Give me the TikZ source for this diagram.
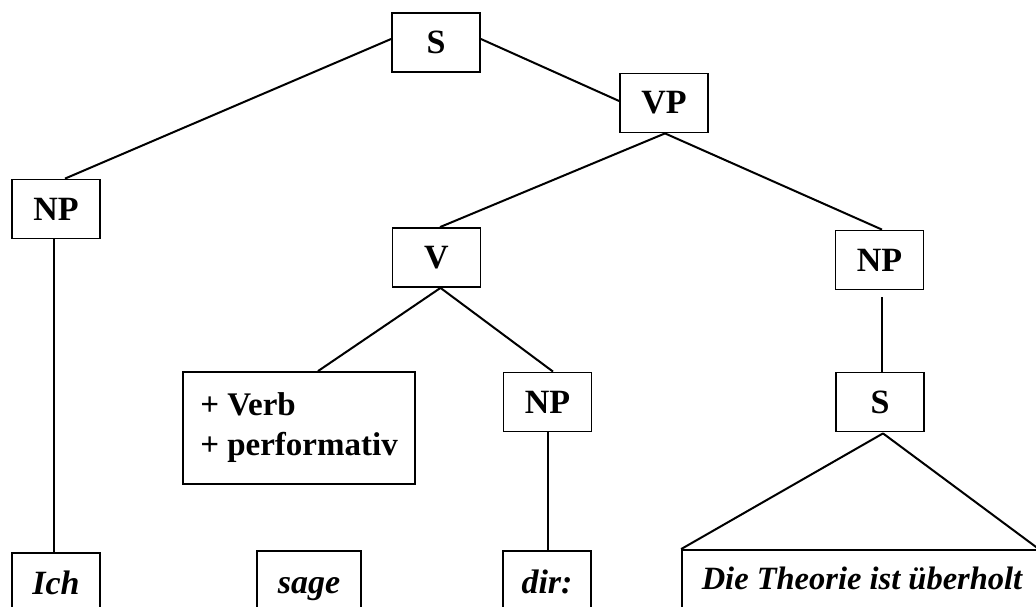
\documentclass[tikz,border=0pt]{standalone}
\usepackage{fontspec}
\setmainfont{Liberation Serif}
\usetikzlibrary{calc}
\tikzset{
  box/.style={draw=black, line width=1.8pt, rectangle, inner sep=0pt, minimum width=88pt, minimum height=59pt, font=\fontsize{34}{40}\selectfont\bfseries},
  wbox/.style={box, text height=23pt, text depth=8pt, font=\fontsize{34}{40}\selectfont\bfseries\itshape},
  edge/.style={draw=black, line width=2pt}
}
\begin{document}
\begin{tikzpicture}[x=1pt,y=-1pt]
\useasboundingbox (0,0) rectangle (1036,607);
\clip (0,0) rectangle (1036,607);
\fill[white] (0,0) rectangle (1036,607);
% nodes
\node[box] (S) at (436,42.5) {S};
\node[box] (VP) at (664,103) {VP};
\node[box] (NPL) at (56,209) {NP};
\node[box] (V) at (436.5,257.5) {V};
\node[box] (NPR) at (879.5,260) {NP};
\node[box, minimum width=232pt, minimum height=112pt, align=left, font=\fontsize{33}{40}\selectfont\bfseries] (feat) at (299,428) {+ Verb\\+ performativ};
\node[box] (NPM) at (547.5,402) {NP};
\node[box] (SR) at (880,402) {S};
\node[wbox, minimum height=68pt] (Ich) at (56,587) {Ich};
\node[wbox, minimum width=104pt, minimum height=69pt] (sage) at (309,585.5) {sage};
\node[wbox, minimum height=69pt] (dir) at (547,585.5) {dir:};
\node[wbox, minimum width=360pt, minimum height=63pt, font=\fontsize{32.5}{40}\selectfont\bfseries\itshape] (Die) at (862,581.5) {Die Theorie ist überholt};
% connectors
\draw[edge] ($(S.west)+(0,-3.5)$) -- ($(NPL.north)+(9,0)$);
\draw[edge] ($(S.east)+(0,-3.5)$) -- ($(VP.west)+(0,-2)$);
\draw[edge] ($(VP.south)+(1,0)$) -- ($(V.north)+(3.5,0)$);
\draw[edge] ($(VP.south)+(1,0)$) -- ($(NPR.north)+(2.5,0)$);
\draw[edge] ($(V.south)+(4,0)$) -- ($(feat.north)+(19,0)$);
\draw[edge] ($(V.south)+(4,0)$) -- ($(NPM.north)+(5.5,0)$);
\draw[edge] ($(NPL.south)+(-2,0)$) -- ($(Ich.north)+(-2,0)$);
\draw[edge] ($(NPM.south)+(0.5,0)$) -- ($(dir.north)+(1,0)$);
\draw[edge] ($(NPR.south)+(2.5,7)$) -- ($(SR.north)+(2,0)$);
\draw[edge] ($(SR.south)+(3,1)$) -- (Die.north west);
\draw[edge] ($(SR.south)+(3,1)$) -- ($(Die.north east)+(-4,0)$);
\end{tikzpicture}
\end{document}
